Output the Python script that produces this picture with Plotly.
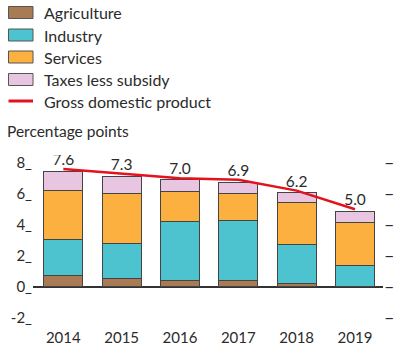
import plotly.graph_objects as go

years = ["2014", "2015", "2016", "2017", "2018", "2019"]
agriculture = [0.71, 0.52, 0.37, 0.37, 0.19, 0.0]
industry = [2.34, 2.30, 3.85, 3.91, 2.52, 1.40]
services = [3.19, 3.18, 1.91, 1.76, 2.73, 2.75]
taxes = [1.22, 1.10, 0.79, 0.71, 0.62, 0.73]
gdp = [7.6, 7.3, 7.0, 6.9, 6.2, 5.0]
gdp_labels = ["7.6", "7.3", "7.0", "6.9", "6.2", "5.0"]
ytick_vals = [-2, 0, 2, 4, 6, 8]
ytick_text = ["-2_", "0_", "2_", "4_", "6_", "8_"]

series = [
    ("Agriculture", agriculture, "#a87b55"),
    ("Industry", industry, "#4ec3d0"),
    ("Services", services, "#fbb040"),
    ("Taxes less subsidy", taxes, "#e8c6e2"),
]

FONT = "Lato"
TXT = "#2b2b2b"

fig = go.Figure()
for name, vals, col in series:
    fig.add_trace(go.Bar(x=years, y=vals, name=name, marker_color=col,
                         marker_line_color="#444444", marker_line_width=1,
                         showlegend=False))
fig.add_trace(go.Scatter(x=years, y=gdp, mode="lines", name="Gross domestic product",
                         line=dict(color="#e3121c", width=2.5), showlegend=False))
fig.add_trace(go.Scatter(x=years, y=gdp, mode="text", text=gdp_labels,
                         textposition="top center", yaxis="y2",
                         textfont=dict(family=FONT, size=15.5, color=TXT),
                         showlegend=False, hoverinfo="skip"))

# plot area in pixels
L, R, T, B = 33, 383, 155, 327
W, H = R - L, B - T
def px(x): return (x - L) / W
def py(y): return (B - y) / H

shapes = []
annots = []
legend_rows = [("Agriculture", "#a87b55", 12.5), ("Industry", "#4ec3d0", 35),
               ("Services", "#fbb040", 57), ("Taxes less subsidy", "#e8c6e2", 79.5)]
for name, col, yc in legend_rows:
    shapes.append(dict(type="rect", xref="paper", yref="paper",
                       x0=px(8.5), x1=px(33), y0=py(yc - 6), y1=py(yc + 6),
                       fillcolor=col, line=dict(color="#555555", width=1)))
    annots.append(dict(text=name, xref="paper", yref="paper", x=px(42), y=py(yc),
                       xanchor="left", yanchor="middle", showarrow=False,
                       font=dict(family=FONT, size=16, color=TXT)))
shapes.append(dict(type="line", xref="paper", yref="paper", x0=px(8.5), x1=px(33),
                   y0=py(101), y1=py(101), line=dict(color="#e3121c", width=3)))
annots.append(dict(text="Gross domestic product", xref="paper", yref="paper", x=px(42), y=py(101),
                   xanchor="left", yanchor="middle", showarrow=False,
                   font=dict(family=FONT, size=16, color=TXT)))
annots.append(dict(text="Percentage points", xref="paper", yref="paper", x=px(5), y=py(131),
                   xanchor="left", yanchor="middle", showarrow=False,
                   font=dict(family=FONT, size=15.5, color=TXT)))

yr = [-2.6, 8.5]
fig.update_layout(
    width=406, height=357,
    margin=dict(l=L, r=406 - R, t=T, b=357 - B, pad=0),
    barmode="stack", bargap=0.33,
    plot_bgcolor="white", paper_bgcolor="white",
    font=dict(family=FONT, size=15, color=TXT),
    xaxis=dict(range=[-0.52, 5.48], showgrid=False, showline=False, ticks="",
               tickfont=dict(family=FONT, size=15, color=TXT)),
    yaxis=dict(range=yr, tickvals=ytick_vals, ticktext=ytick_text, showgrid=False,
               zeroline=True, zerolinecolor="#333333", zerolinewidth=1.5,
               showline=False, ticks="", tickfont=dict(family=FONT, size=15, color=TXT)),
    yaxis2=dict(range=yr, overlaying="y", side="right", tickvals=ytick_vals,
                ticktext=["–"] * 6, showgrid=False, zeroline=False, showline=False,
                ticks="", tickfont=dict(family=FONT, size=18, color=TXT)),
    shapes=shapes, annotations=annots,
)
fig.write_html("out.html", config={"displayModeBar": False},
               post_script="document.body.style.margin='0';document.body.style.overflow='hidden';")
